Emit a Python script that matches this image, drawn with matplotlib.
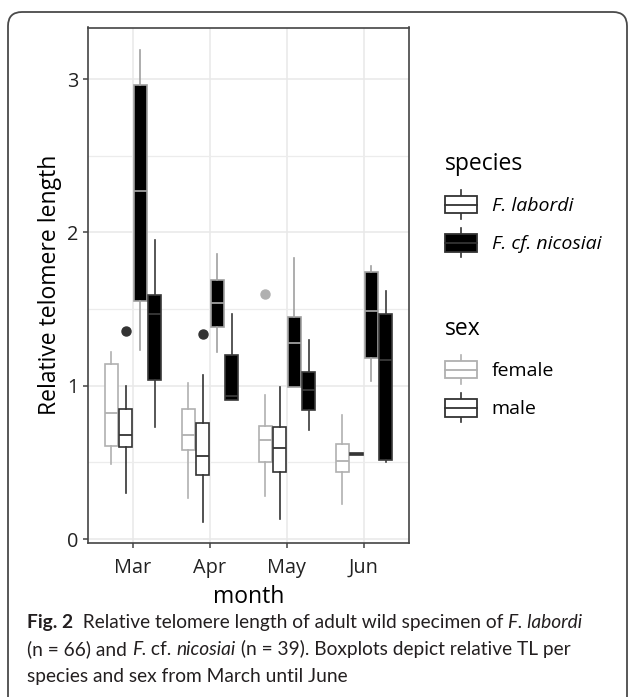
import matplotlib
matplotlib.use("Agg")
import matplotlib.pyplot as plt
from matplotlib.legend_handler import HandlerBase
from matplotlib.lines import Line2D
from matplotlib.patches import Rectangle, Patch, FancyBboxPatch
from matplotlib.transforms import IdentityTransform

# ---- data ----
months = ["Mar", "Apr", "May", "Jun"]

lab_f_lo = [0.49, 0.27, 0.28, 0.23]
lab_f_q1 = [0.61, 0.58, 0.50, 0.435]
lab_f_med = [0.82, 0.68, 0.645, 0.51]
lab_f_q3 = [1.14, 0.85, 0.74, 0.62]
lab_f_hi = [1.22, 1.02, 0.94, 0.81]
lab_f_out = [[], [], [1.60], []]

lab_m_lo = [0.30, 0.11, 0.13, 0.55]
lab_m_q1 = [0.60, 0.42, 0.435, 0.55]
lab_m_med = [0.68, 0.54, 0.595, 0.555]
lab_m_q3 = [0.85, 0.755, 0.73, 0.56]
lab_m_hi = [1.00, 1.07, 0.99, 0.56]
lab_m_out = [[1.36], [1.34], [], []]

nic_f_lo = [1.23, 1.22, 0.99, 1.03]
nic_f_q1 = [1.555, 1.38, 0.99, 1.18]
nic_f_med = [2.27, 1.54, 1.28, 1.49]
nic_f_q3 = [2.96, 1.69, 1.45, 1.745]
nic_f_hi = [3.19, 1.86, 1.835, 1.78]
nic_f_out = [[], [], [], []]

nic_m_lo = [0.73, 0.91, 0.71, 0.50]
nic_m_q1 = [1.037, 0.91, 0.84, 0.515]
nic_m_med = [1.47, 0.935, 0.97, 1.17]
nic_m_q3 = [1.59, 1.20, 1.09, 1.47]
nic_m_hi = [1.95, 1.47, 1.30, 1.62]
nic_m_out = [[], [], [], []]

species_labels = ["F. labordi", "F. cf. nicosiai"]
sex_labels = ["female", "male"]

FONT = "Open Sans"
CAP_FONT = "Lato"
LIGHT = "#b0b0b0"
DARK = "#333333"

plt.rcParams["font.family"] = FONT


def stats_for(lo, q1, med, q3, hi, out):
    return [
        dict(whislo=a, q1=b, med=c, q3=d, whishi=e, fliers=f)
        for a, b, c, d, e, f in zip(lo, q1, med, q3, hi, out)
    ]


class BoxKey(HandlerBase):
    """Legend key that looks like a small ggplot boxplot."""

    def create_artists(self, legend, orig_handle, xdescent, ydescent,
                       width, height, fontsize, trans):
        face = orig_handle.get_facecolor()
        edge = orig_handle.get_edgecolor()
        x0, y0 = -xdescent, -ydescent
        cx = x0 + width / 2
        lo, hi = y0 + height * 0.2, y0 + height * 0.8
        mid = (lo + hi) / 2
        w1 = Line2D([cx, cx], [y0, lo], color=edge, lw=1.2, transform=trans)
        w2 = Line2D([cx, cx], [hi, y0 + height], color=edge, lw=1.2, transform=trans)
        rect = Rectangle((x0, lo), width, hi - lo, facecolor=face, edgecolor=edge,
                         lw=1.3, transform=trans)
        med = Line2D([x0, x0 + width], [mid, mid], color=edge, lw=1.3, transform=trans)
        return [w1, w2, rect, med]


fig = plt.figure(figsize=(6.3, 6.97), dpi=100)
ax = fig.add_axes([88 / 630, 1 - 543 / 697, 321 / 630, 515.5 / 697])

groups = [
    (stats_for(lab_f_lo, lab_f_q1, lab_f_med, lab_f_q3, lab_f_hi, lab_f_out), -0.28, "white", LIGHT),
    (stats_for(lab_m_lo, lab_m_q1, lab_m_med, lab_m_q3, lab_m_hi, lab_m_out), -0.094, "white", DARK),
    (stats_for(nic_f_lo, nic_f_q1, nic_f_med, nic_f_q3, nic_f_hi, nic_f_out), 0.094, "black", "#a0a0a0"),
    (stats_for(nic_m_lo, nic_m_q1, nic_m_med, nic_m_q3, nic_m_hi, nic_m_out), 0.28, "black", "#3a3a3a"),
]
for stats, off, face, edge in groups:
    ax.bxp(
        stats,
        positions=[i + off for i in range(len(months))],
        widths=0.17,
        showcaps=False,
        patch_artist=True,
        manage_ticks=False,
        boxprops=dict(facecolor=face, edgecolor=edge, linewidth=1.2),
        medianprops=dict(color=edge, linewidth=1.3),
        whiskerprops=dict(color=edge, linewidth=1.2),
        flierprops=dict(marker="o", markersize=6.5, markerfacecolor=edge,
                        markeredgecolor=edge),
        zorder=3,
    )

ax.set_xlim(-0.585, len(months) - 1 + 0.585)
ax.set_ylim(-0.026, 3.337)
ax.set_xticks(range(len(months)))
ax.set_xticklabels(months)
ax.set_yticks([0, 1, 2, 3])
ax.set_yticks([0.5, 1.5, 2.5], minor=True)
ax.grid(True, which="major", color="#e8e8e8", linewidth=1.1, zorder=0)
ax.grid(True, which="minor", axis="y", color="#ececec", linewidth=0.9, zorder=0)
ax.set_axisbelow(True)
for s in ax.spines.values():
    s.set_color("#444444")
    s.set_linewidth(1.2)
ax.tick_params(axis="both", which="major", labelsize=14.3, length=3.6, width=1.1,
               color="#444444", labelcolor="#222222", pad=3)
ax.tick_params(axis="x", which="major", pad=7)
ax.tick_params(axis="y", which="minor", length=0)
ax.set_xlabel("month", fontsize=16.5, labelpad=5.5)
ax.set_ylabel("Relative telomere length", fontsize=16.5, labelpad=4)

# legends
sp_handles = [Patch(facecolor="white", edgecolor=DARK), Patch(facecolor="black", edgecolor=DARK)]
sx_handles = [Patch(facecolor="white", edgecolor=LIGHT), Patch(facecolor="white", edgecolor=DARK)]
leg_kw = dict(loc="upper left", frameon=False, title_fontsize=16.5,
              handler_map={Patch: BoxKey()}, handlelength=1.65, handleheight=1.95,
              handletextpad=0.75, labelspacing=0.45, borderpad=0, borderaxespad=0,
              alignment="left")
leg1 = fig.legend(sp_handles, species_labels, title="species",
                  bbox_to_anchor=(445 / 630, 1 - 152 / 697),
                  prop=dict(family=FONT, style="italic", size=14), **leg_kw)
leg2 = fig.legend(sx_handles, sex_labels, title="sex",
                  bbox_to_anchor=(445 / 630, 1 - 317 / 697),
                  prop=dict(family=FONT, size=14), **leg_kw)
for leg in (leg1, leg2):
    leg._legend_box.sep = 10

# outer rounded frame (pixel coordinates, origin bottom-left)
frame = FancyBboxPatch((8, -20), 619, 705, boxstyle="round,pad=0,rounding_size=14",
                       transform=IdentityTransform(), facecolor="none",
                       edgecolor="#4a4a4a", linewidth=1.3)
fig.patches.append(frame)

# caption, pieced together so bold / italic parts sit inline
fig.canvas.draw()
renderer = fig.canvas.get_renderer()
W, H = fig.bbox.width, fig.bbox.height


def put_line(x_px, base_px, parts, size=13.8):
    x = x_px
    for txt, style in parts:
        t = fig.text(x / W, 1 - base_px / H, txt, fontsize=size, family=CAP_FONT,
                     fontweight="bold" if style == "b" else "normal",
                     fontstyle="italic" if style == "i" else "normal",
                     va="baseline", ha="left", color="#231f20")
        x += t.get_window_extent(renderer).width


put_line(27, 628, [("Fig. 2", "b"), ("  Relative telomere length of adult wild specimen of ", "n"),
                   ("F. labordi", "i")])
put_line(27, 655, [("(n = 66) and ", "n"), ("F.", "i"), (" cf. ", "n"), ("nicosiai", "i"),
                   (" (n = 39). Boxplots depict relative TL per", "n")])
put_line(27, 682, [("species and sex from March until June", "n")])

fig.savefig("out.png", dpi=100)
